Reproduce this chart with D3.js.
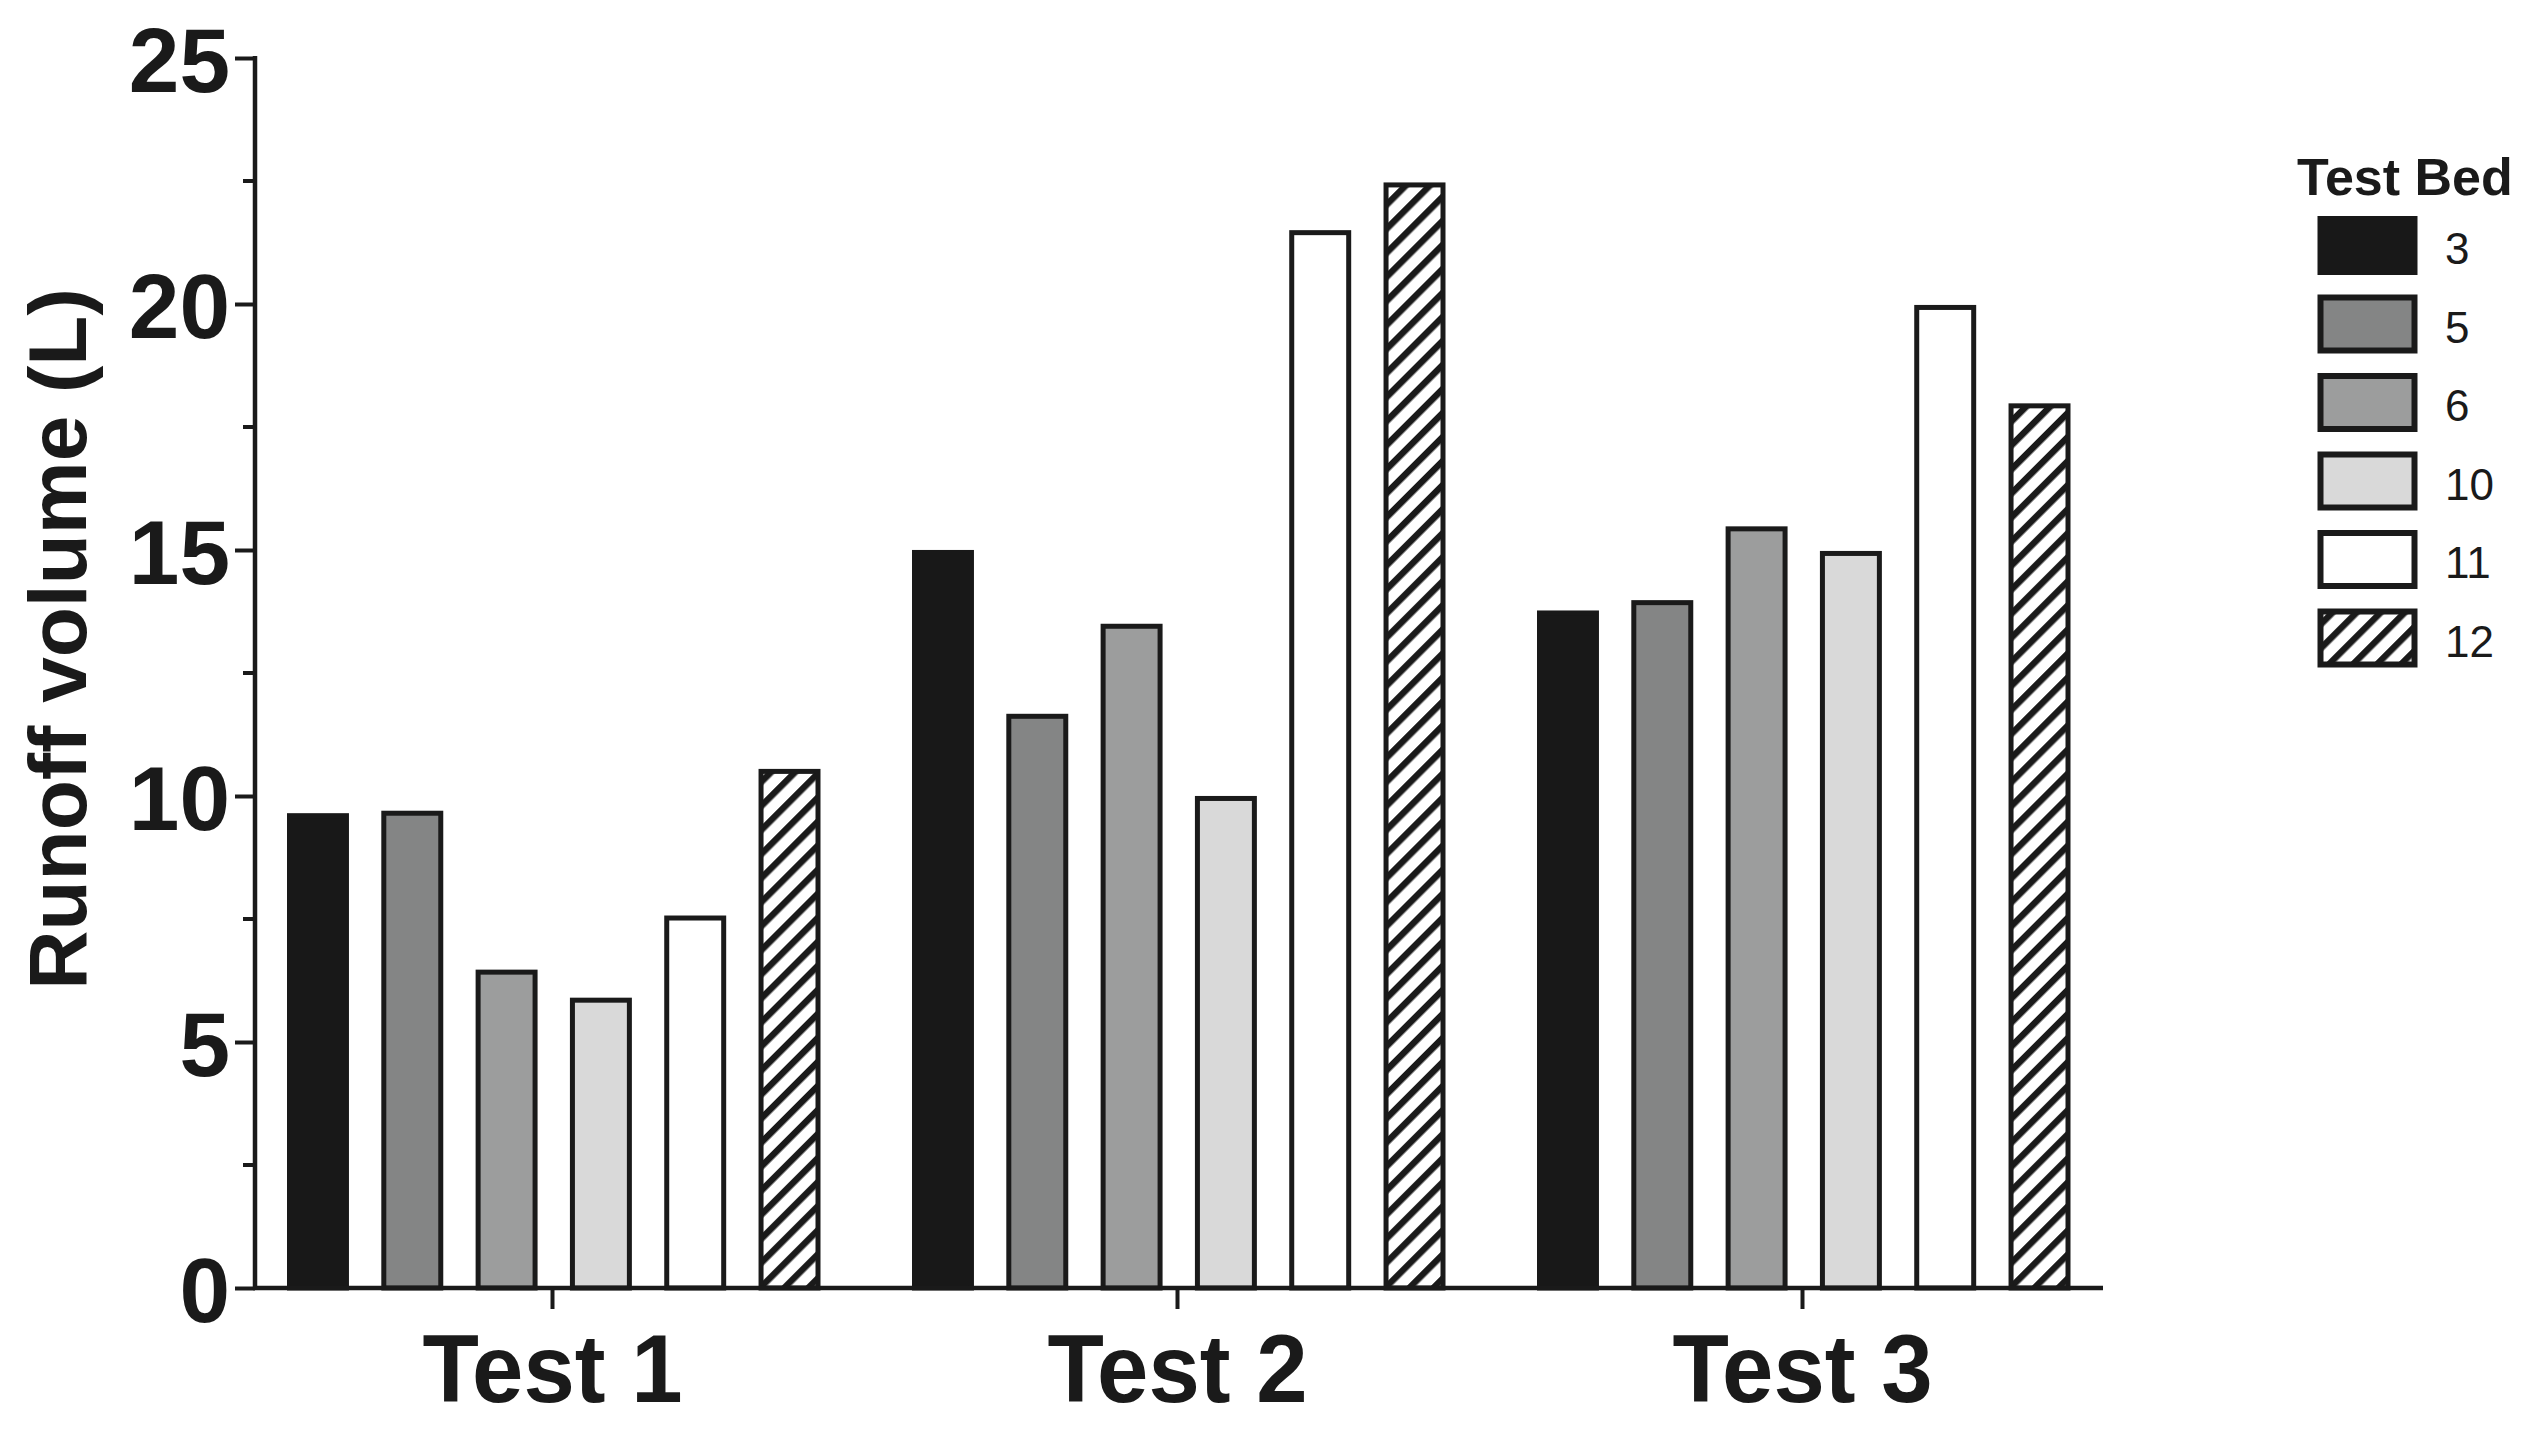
<!DOCTYPE html>
<html>
<head>
<meta charset="utf-8">
<script src="https://cdn.jsdelivr.net/npm/d3@7"></script>
<style>
  html, body { margin: 0; padding: 0; background: #fff; }
  svg { display: block; }
  text { font-family: "Liberation Sans", Arial, sans-serif; fill: #1a1a1a; }
</style>
</head>
<body>
<svg id="chart" width="2536" height="1432"></svg>
<script>
// ---- data ----
const tests = ["Test 1", "Test 2", "Test 3"];
const beds = ["3", "5", "6", "10", "11", "12"];
const bed3  = [9.6, 14.95, 13.72];
const bed5  = [9.65, 11.62, 13.93];
const bed6  = [6.42, 13.45, 15.43];
const bed10 = [5.85, 9.95, 14.93];
const bed11 = [7.52, 21.45, 19.93];
const bed12 = [10.5, 22.42, 17.93];
const yTicks = [0, 5, 10, 15, 20, 25];
const yMinorTicks = [2.5, 7.5, 12.5, 17.5, 22.5];
const yTitle = "Runoff volume (L)";
const legendTitle = "Test Bed";

const seriesValues = [bed3, bed5, bed6, bed10, bed11, bed12];
const fills = ["#181818", "#848585", "#9c9d9d", "#d9d9d9", "#ffffff", "url(#hatch)"];
const ink = "#1a1a1a";

const svg = d3.select("#chart");
svg.append("rect").attr("width", 2536).attr("height", 1432).attr("fill", "#fff");

// hatch pattern
const defs = svg.append("defs");
const pat = defs.append("pattern")
  .attr("id", "hatch").attr("patternUnits", "userSpaceOnUse")
  .attr("width", 17).attr("height", 17)
  .attr("patternTransform", "rotate(45)");
pat.append("rect").attr("width", 17).attr("height", 17).attr("fill", "#fff");
pat.append("line").attr("x1", 3).attr("y1", 0).attr("x2", 3).attr("y2", 17)
  .attr("stroke", ink).attr("stroke-width", 7);

// scales
const y = d3.scaleLinear().domain([0, 25]).range([1288, 58]);
const x0 = d3.scaleBand().domain(tests).range([240, 2115]).padding(0);
const x1 = d3.scaleBand().domain(beds).range([47, 580.5]).paddingInner(0.343).paddingOuter(0);

const axisLeftX = 255;
const axisRightX = 2103;

// bars
const sw = 5;
const rows = [];
tests.forEach((t, ti) => beds.forEach((b, bi) => rows.push({ test: t, bed: b, bi, v: seriesValues[bi][ti] })));
svg.append("g").selectAll("rect").data(rows).join("rect")
  .attr("x", d => x0(d.test) + x1(d.bed) + sw / 2)
  .attr("width", x1.bandwidth() - sw)
  .attr("y", d => y(d.v))
  .attr("height", d => y(0) - y(d.v))
  .attr("fill", d => fills[d.bi])
  .attr("stroke", d => d.bi === 0 ? fills[0] : ink)
  .attr("stroke-width", sw);

// y axis
const gy = svg.append("g").attr("transform", `translate(${axisLeftX},0)`);
gy.call(d3.axisLeft(y).tickValues(yTicks).tickSize(20).tickPadding(6).tickFormat(d3.format("d")));
gy.select(".domain").remove();
gy.selectAll(".tick line").attr("stroke", ink).attr("stroke-width", 4);
gy.selectAll(".tick text")
  .attr("font-size", 91).attr("font-weight", "bold").attr("fill", ink)
  .attr("font-family", "Liberation Sans, Arial, sans-serif")
  .attr("dy", "0.37em").attr("x", -25);
gy.append("g").selectAll("line").data(yMinorTicks).join("line")
  .attr("x1", -12).attr("x2", 0)
  .attr("y1", d => y(d)).attr("y2", d => y(d))
  .attr("stroke", ink).attr("stroke-width", 4);
gy.append("line").attr("x1", 0).attr("x2", 0).attr("y1", y(25) - 2).attr("y2", y(0) + 2)
  .attr("stroke", ink).attr("stroke-width", 4.5);

// x axis
const gx = svg.append("g").attr("transform", `translate(0,${y(0)})`);
gx.call(d3.axisBottom(x0).tickSize(21).tickPadding(0).tickSizeOuter(0));
gx.select(".domain").remove();
gx.selectAll(".tick line").attr("stroke", ink).attr("stroke-width", 4);
gx.selectAll(".tick text").remove();
gx.selectAll(".tick").append("text")
  .attr("y", 114).attr("text-anchor", "middle")
  .attr("font-size", 96).attr("font-weight", "bold").attr("fill", ink)
  .attr("textLength", 260).attr("lengthAdjust", "spacingAndGlyphs")
  .attr("font-family", "Liberation Sans, Arial, sans-serif")
  .text(d => d);
gx.append("line").attr("x1", axisLeftX - 2).attr("x2", axisRightX).attr("y1", 0).attr("y2", 0)
  .attr("stroke", ink).attr("stroke-width", 4.5);

// y title
svg.append("text")
  .attr("transform", `translate(86,639) rotate(-90)`)
  .attr("text-anchor", "middle")
  .attr("font-size", 82).attr("font-weight", "bold").attr("fill", ink)
  .text(yTitle);

// legend
const lg = svg.append("g");
lg.append("text").attr("x", 2297).attr("y", 195)
  .attr("font-size", 52).attr("font-weight", "bold").attr("fill", ink)
  .text(legendTitle);
const legTop = d3.scalePoint().domain(beds).range([216, 608.5]);
const lgRow = lg.selectAll("g.row").data(beds).join("g").attr("class", "row")
  .attr("transform", d => `translate(0,${legTop(d)})`);
lgRow.append("rect")
  .attr("x", 2320.5).attr("y", 3).attr("width", 94).attr("height", 53)
  .attr("fill", (d, i) => fills[i])
  .attr("stroke", (d, i) => i === 0 ? fills[0] : ink)
  .attr("stroke-width", 6);
lgRow.append("text")
  .attr("x", 2445).attr("y", 48)
  .attr("font-size", 44).attr("fill", ink)
  .text(d => d);
</script>
</body>
</html>
